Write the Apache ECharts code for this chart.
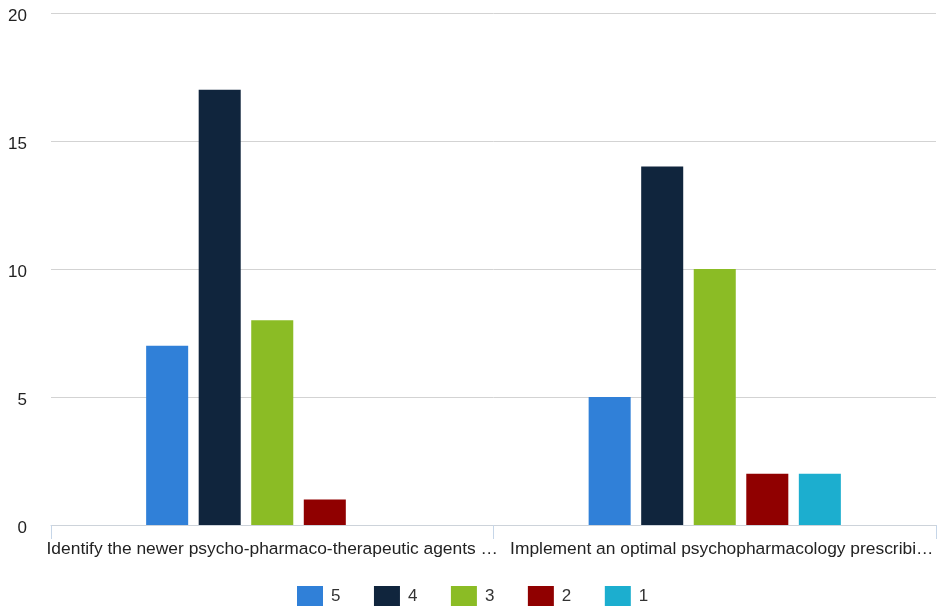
<!DOCTYPE html>
<html>
<head>
<meta charset="utf-8">
<style>
  html, body { margin: 0; padding: 0; background: #fff; }
  #chart { width: 938px; height: 612px; }
</style>
<script src="https://cdn.jsdelivr.net/npm/echarts@6/dist/echarts.min.js"></script>
</head>
<body>
<div id="chart"></div>
<script>
// Survey items (x categories)
const categories = [
  'Identify the newer psycho-pharmaco-therapeutic agents …',
  'Implement an optimal psychopharmacology prescribi…'
];

// Rating levels, one series per level
const ratingNames = ['5', '4', '3', '2', '1'];
const rating5 = [7, 5];
const rating4 = [17, 14];
const rating3 = [8, 10];
const rating2 = [1, 2];
const rating1 = [0, 2];
const ratingValues = [rating5, rating4, rating3, rating2, rating1];
const ratingColors = ['#3080d8', '#10253d', '#8bbc25', '#900000', '#1caecf'];

// Value axis ticks
const yMin = 0, yMax = 20, yStep = 5;

const fontFamily = '"Liberation Sans", Arial, Helvetica, sans-serif';

// The second category label sits a little to the right of its band centre
const labelOffsets = [0, 14];
const categoryData = categories.map((name, i) => ({
  value: name,
  textStyle: { padding: [0, 0, 0, labelOffsets[i]] }
}));

const chart = echarts.init(document.getElementById('chart'), null, { renderer: 'canvas' });

chart.setOption({
  animation: false,
  textStyle: { fontFamily },
  grid: { left: 51, right: 2, top: 13, bottom: 87, containLabel: false },
  legend: {
    bottom: 1,
    left: 292,
    icon: 'rect',
    itemWidth: 26,
    itemHeight: 20,
    itemGap: 33.5,
    textStyle: { fontSize: 17, color: '#333', fontFamily, padding: [0, 0, 0, 3] },
    data: ratingNames
  },
  xAxis: {
    type: 'category',
    data: categoryData,
    axisLine: { show: true, lineStyle: { color: '#cdd3da', width: 1 } },
    axisTick: { show: true, length: 14, lineStyle: { color: '#c6d6e8' } },
    axisLabel: {
      interval: 0, hideOverlap: false,
      fontSize: 17.4, color: '#222', fontFamily, margin: 16,
      width: 470, overflow: 'truncate', ellipsis: '…'
    },
    splitLine: { show: false }
  },
  yAxis: {
    type: 'value',
    min: yMin, max: yMax, interval: yStep,
    axisLine: { show: false },
    axisTick: { show: false },
    axisLabel: {
      margin: 24,
      formatter: '{v|{value}}',
      rich: { v: { fontSize: 17, color: '#222', fontFamily, padding: [7, 0, 0, 0] } }
    },
    splitLine: { show: true, lineStyle: { color: '#d3d3d3', width: 1 } }
  },
  series: ratingNames.map((name, i) => ({
    name,
    type: 'bar',
    data: ratingValues[i],
    barCategoryGap: '43%',
    barGap: '25%',
    itemStyle: { color: ratingColors[i] }
  }))
});
</script>
</body>
</html>
